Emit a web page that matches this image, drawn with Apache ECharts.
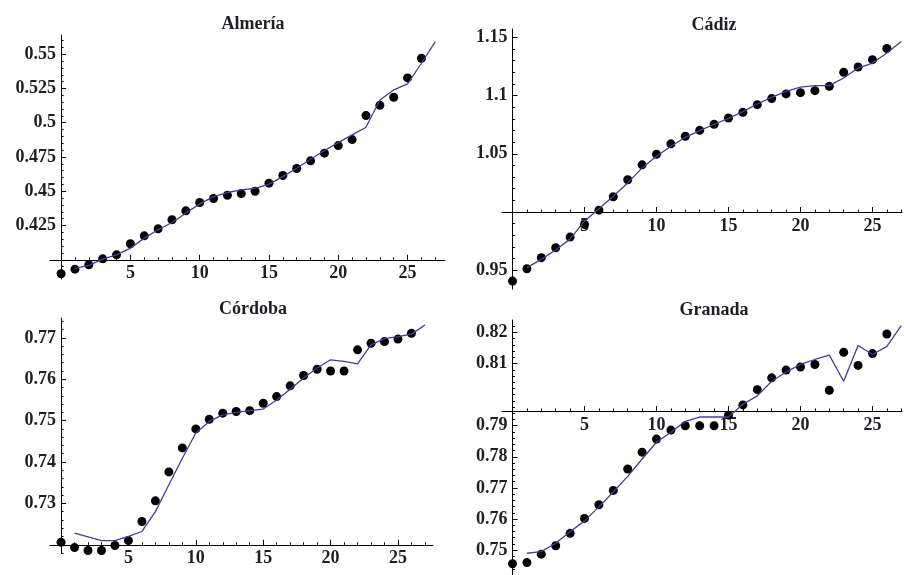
<!DOCTYPE html>
<html>
<head>
<meta charset="utf-8">
<script src="https://cdn.jsdelivr.net/npm/echarts@6/dist/echarts.min.js"></script>
<style>
  html, body { margin: 0; background: #fff; }
  #chart { width: 904px; height: 575px; }
</style>
</head>
<body>
<div id="chart"></div>
<script>
// observed points sit at x = 0..26, the fitted curve at x = 1..27
const obsX = [0, 1, 2, 3, 4, 5, 6, 7, 8, 9, 10, 11, 12, 13, 14, 15, 16, 17, 18, 19, 20, 21, 22, 23, 24, 25, 26];
const fitX = [1, 2, 3, 4, 5, 6, 7, 8, 9, 10, 11, 12, 13, 14, 15, 16, 17, 18, 19, 20, 21, 22, 23, 24, 25, 26, 27];

const almeriaObs = [0.3898, 0.3932, 0.3964, 0.4007, 0.4036, 0.4117, 0.4175, 0.4226, 0.4292, 0.4357, 0.4418, 0.4447, 0.4471, 0.4483, 0.4500, 0.4559, 0.4615, 0.4666, 0.4722, 0.4778, 0.4833, 0.4877, 0.5052, 0.5127, 0.5186, 0.5327, 0.5470];
const almeriaFit = [0.3937, 0.3960, 0.4005, 0.4036, 0.4085, 0.4158, 0.4219, 0.4272, 0.4340, 0.4408, 0.4461, 0.4491, 0.4510, 0.4522, 0.4552, 0.4607, 0.4668, 0.4734, 0.4797, 0.4855, 0.4911, 0.4967, 0.5166, 0.5239, 0.5283, 0.5434, 0.5591];

const cadizObs = [0.9408, 0.9514, 0.9609, 0.9694, 0.9785, 0.9894, 1.0016, 1.0131, 1.0277, 1.0405, 1.0496, 1.0585, 1.0650, 1.0701, 1.0753, 1.0807, 1.0855, 1.0921, 1.0973, 1.1013, 1.1024, 1.1041, 1.1078, 1.1198, 1.1244, 1.1307, 1.1403];
const cadizFit = [0.9523, 0.9594, 0.9675, 0.9770, 0.9922, 1.0028, 1.0136, 1.0250, 1.0379, 1.0479, 1.0564, 1.0641, 1.0699, 1.0753, 1.0804, 1.0861, 1.0927, 1.0984, 1.1035, 1.1072, 1.1084, 1.1084, 1.1150, 1.1235, 1.1278, 1.1364, 1.1463];

const cordobaObs = [0.7206, 0.7193, 0.7186, 0.7186, 0.7198, 0.7210, 0.7256, 0.7306, 0.7376, 0.7434, 0.7480, 0.7503, 0.7518, 0.7522, 0.7524, 0.7542, 0.7558, 0.7584, 0.7609, 0.7624, 0.7620, 0.7620, 0.7671, 0.7687, 0.7691, 0.7697, 0.7711];
const cordobaFit = [0.7228, 0.7219, 0.7210, 0.7210, 0.7220, 0.7232, 0.7280, 0.7345, 0.7409, 0.7470, 0.7498, 0.7514, 0.7520, 0.7524, 0.7528, 0.7550, 0.7576, 0.7603, 0.7627, 0.7647, 0.7643, 0.7637, 0.7683, 0.7698, 0.7703, 0.7709, 0.7731];

const granadaObs = [0.7456, 0.7460, 0.7487, 0.7514, 0.7554, 0.7602, 0.7646, 0.7692, 0.7761, 0.7815, 0.7857, 0.7886, 0.7900, 0.7900, 0.7900, 0.7934, 0.7967, 0.8016, 0.8054, 0.8079, 0.8089, 0.8097, 0.8014, 0.8136, 0.8094, 0.8132, 0.8195];
const granadaFit = [0.7490, 0.7495, 0.7522, 0.7559, 0.7594, 0.7639, 0.7687, 0.7737, 0.7793, 0.7847, 0.7879, 0.7914, 0.7928, 0.7928, 0.7928, 0.7969, 0.7996, 0.8043, 0.8073, 0.8097, 0.8113, 0.8127, 0.8043, 0.8158, 0.8129, 0.8155, 0.8222];

// tick labels
const xLabels = [5, 10, 15, 20, 25];
const almeriaLabels = [0.425, 0.45, 0.475, 0.5, 0.525, 0.55];
const cadizLabels = [0.95, 1.05, 1.1, 1.15];
const cordobaLabels = [0.73, 0.74, 0.75, 0.76, 0.77];
const granadaLabels = [0.75, 0.76, 0.77, 0.78, 0.79, 0.81, 0.82];

// layout of the four panels (pixels) and their ranges
const panels = [
  { name: "Almería", obs: almeriaObs, fit: almeriaFit, labels: almeriaLabels, base: 0.4, step: 0.005,
    box: [50, 35, 395, 244], xr: [-0.8, 27.7], yr: [0.386, 0.564], title: [248, 10] },
  { name: "Cádiz", obs: cadizObs, fit: cadizFit, labels: cadizLabels, base: 1.0, step: 0.01,
    box: [502, 29, 400, 260], xr: [-0.73, 27.05], yr: [0.934, 1.157], title: [709, 11] },
  { name: "Córdoba", obs: cordobaObs, fit: cordobaFit, labels: cordobaLabels, base: 0.72, step: 0.002,
    box: [50, 318, 383, 235], xr: [-0.82, 27.6], yr: [0.718, 0.7748], title: [248, 295] },
  { name: "Granada", obs: granadaObs, fit: granadaFit, labels: granadaLabels, base: 0.8, step: 0.002,
    box: [502, 320, 400, 257], xr: [-0.73, 27.05], yr: [0.742, 0.824], title: [709, 296] },
];

const font = { fontFamily: "Liberation Serif", fontWeight: "bold", fontSize: 18, color: "#1e1e24" };
const axisColor = "#000";

function minorTicks(lo, hi, step) {
  const out = [];
  for (let k = Math.ceil(lo / step); k * step <= hi; k++) out.push(Math.round(k * step * 1e6) / 1e6);
  return out;
}
const xMinor = minorTicks(1, 27, 1);

const chart = echarts.init(document.getElementById("chart"));
const option = { animation: false, title: [], grid: [], xAxis: [], yAxis: [], series: [] };

panels.forEach((p, i) => {
  option.title.push({
    text: p.name, left: p.title[0], top: p.title[1], textAlign: "center",
    textStyle: { ...font, fontSize: 18 },
  });
  option.grid.push({ left: p.box[0], top: p.box[1], width: p.box[2], height: p.box[3] });

  const xBase = { type: "value", gridIndex: i, min: p.xr[0], max: p.xr[1], position: "bottom", splitLine: { show: false } };
  option.xAxis.push({
    ...xBase,
    axisLine: { onZero: false, lineStyle: { color: axisColor, width: 1 } },
    axisTick: { inside: true, length: 5, customValues: xLabels, lineStyle: { color: axisColor } },
    axisLabel: { customValues: xLabels, margin: 5, ...font },
  });
  option.xAxis.push({
    ...xBase,
    axisLine: { show: false, onZero: false },
    axisTick: { inside: true, length: 2.5, customValues: xMinor, lineStyle: { color: axisColor } },
    axisLabel: { show: false },
  });

  const yBase = { type: "value", gridIndex: i, min: p.yr[0], max: p.yr[1], position: "left", splitLine: { show: false } };
  option.yAxis.push({
    ...yBase,
    axisLine: { onZero: false, lineStyle: { color: axisColor, width: 1 } },
    axisTick: { inside: true, length: 5, customValues: p.labels, lineStyle: { color: axisColor } },
    axisLabel: { customValues: p.labels, margin: 5, ...font },
  });
  option.yAxis.push({
    ...yBase,
    axisLine: { show: false, onZero: false },
    axisTick: { inside: true, length: 2.5, customValues: minorTicks(p.yr[0], p.yr[1], p.step), lineStyle: { color: axisColor } },
    axisLabel: { show: false },
  });

  option.series.push({
    type: "scatter", xAxisIndex: 2 * i, yAxisIndex: 2 * i, clip: false,
    data: obsX.map((x, k) => [x, p.obs[k]]),
    symbolSize: 9, itemStyle: { color: "#000", opacity: 1 }, z: 3,
  });
  option.series.push({
    type: "line", xAxisIndex: 2 * i, yAxisIndex: 2 * i, showSymbol: false,
    data: fitX.map((x, k) => [x, p.fit[k]]),
    lineStyle: { color: "#413da0", width: 1.3 }, z: 4,
  });
});

chart.setOption(option);

// Mathematica-style axes: the horizontal axis crosses at p.base, the vertical one at x = 0
const xAx = [], yAx = [];
panels.forEach((p, i) => {
  const yb = chart.convertToPixel({ yAxisIndex: 2 * i }, p.base);
  const ylo = chart.convertToPixel({ yAxisIndex: 2 * i }, p.yr[0]);
  const x0 = chart.convertToPixel({ xAxisIndex: 2 * i }, 0);
  const xlo = chart.convertToPixel({ xAxisIndex: 2 * i }, p.xr[0]);
  xAx.push({ offset: -(ylo - yb) }, { offset: -(ylo - yb) });
  yAx.push({ offset: -(x0 - xlo) }, { offset: -(x0 - xlo) });
});
chart.setOption({ xAxis: xAx, yAxis: yAx });
</script>
</body>
</html>
